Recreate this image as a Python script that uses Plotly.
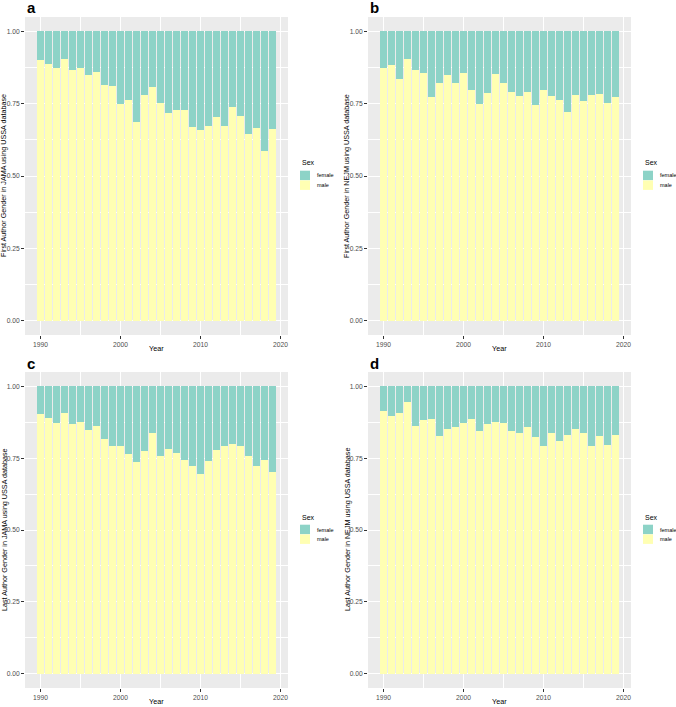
import plotly.graph_objects as go

years = list(range(1990, 2020))

# male share (fill position)
male_first_jama = [0.902, 0.889, 0.872, 0.906, 0.868, 0.874, 0.850, 0.861, 0.816, 0.812,
                   0.748, 0.762, 0.688, 0.781, 0.807, 0.754, 0.718, 0.730, 0.730, 0.671,
                   0.658, 0.673, 0.704, 0.672, 0.738, 0.709, 0.647, 0.665, 0.585, 0.663]
male_first_nejm = [0.875, 0.883, 0.835, 0.905, 0.867, 0.858, 0.774, 0.820, 0.849, 0.820,
                   0.856, 0.799, 0.748, 0.788, 0.852, 0.822, 0.792, 0.777, 0.790, 0.745,
                   0.799, 0.776, 0.762, 0.722, 0.779, 0.760, 0.779, 0.784, 0.751, 0.773]
male_last_jama = [0.903, 0.889, 0.872, 0.907, 0.869, 0.875, 0.849, 0.863, 0.816, 0.794,
                  0.794, 0.766, 0.736, 0.774, 0.837, 0.759, 0.783, 0.768, 0.743, 0.722,
                  0.694, 0.740, 0.779, 0.794, 0.800, 0.793, 0.756, 0.722, 0.743, 0.701]
male_last_nejm = [0.915, 0.897, 0.909, 0.947, 0.862, 0.884, 0.887, 0.828, 0.853, 0.860,
                  0.874, 0.885, 0.846, 0.870, 0.877, 0.874, 0.844, 0.838, 0.857, 0.825,
                  0.791, 0.839, 0.811, 0.832, 0.852, 0.839, 0.791, 0.828, 0.797, 0.830]

panel_tags = ["a", "b", "c", "d"]
y_titles = ["First Author Gender in JAMA using USSA database",
            "First Author Gender in NEJM using USSA database",
            "Last Author Gender in JAMA using USSA database",
            "Last Author Gender in NEJM using USSA database"]
x_title = "Year"
legend_title = "Sex"
sex_labels = ["female", "male"]
x_ticks = [1990, 2000, 2010, 2020]
x_minor = [1995, 2005, 2015]
y_ticks = [0.0, 0.25, 0.5, 0.75, 1.0]
y_tick_text = ["0.00", "0.25", "0.50", "0.75", "1.00"]
y_minor = [0.125, 0.375, 0.625, 0.875]

FEMALE = "#8DD3C7"
MALE = "#FFFFB3"
W, H = 676, 707
FONT = "Liberation Sans, Arial, sans-serif"

series = [male_first_jama, male_first_nejm, male_last_jama, male_last_nejm]

# panel pixel boxes: (left, right, top, bottom)
boxes = [(25, 288, 17, 335), (368, 631, 17, 335),
         (25, 288, 372, 688), (368, 631, 372, 688)]

fig = go.Figure()
layout = dict(width=W, height=H, margin=dict(l=0, r=0, t=0, b=0), autosize=False,
              paper_bgcolor="white", plot_bgcolor="#EBEBEB",
              barmode="stack", bargap=0.1, showlegend=False,
              font=dict(family=FONT, color="#4D4D4D"))
annotations = []
shapes = []

for i, male in enumerate(series):
    n = "" if i == 0 else str(i + 1)
    xa, ya = "x" + n, "y" + n
    female = [round(1 - m, 3) for m in male]
    fig.add_trace(go.Bar(x=years, y=male, name=sex_labels[1], marker=dict(color=MALE, line=dict(width=0)),
                         xaxis=xa, yaxis=ya, hoverinfo="x+y"))
    fig.add_trace(go.Bar(x=years, y=female, name=sex_labels[0], marker=dict(color=FEMALE, line=dict(width=0)),
                         xaxis=xa, yaxis=ya, hoverinfo="x+y"))
    l, r, t, b = boxes[i]
    layout["xaxis" + n] = dict(domain=[l / W, r / W], anchor=ya, range=[1988.055, 2020.945],
                               tickvals=x_ticks, ticks="outside", ticklen=3, tickcolor="#333333",
                               tickwidth=0.6, tickfont=dict(size=6.7, color="#4D4D4D"),
                               showgrid=True, gridcolor="white", gridwidth=0.9, zeroline=False,
                               showline=False, fixedrange=True,
                               minor=dict(tickvals=x_minor, showgrid=True, gridcolor="white",
                                          gridwidth=0.45, ticks=""))
    layout["yaxis" + n] = dict(domain=[1 - b / H, 1 - t / H], anchor=xa, range=[-0.05, 1.05],
                               tickvals=y_ticks, ticktext=y_tick_text, ticks="outside", ticklen=3,
                               tickcolor="#333333", tickwidth=0.6,
                               tickfont=dict(size=6.7, color="#4D4D4D"),
                               showgrid=True, gridcolor="white", gridwidth=0.9, zeroline=False,
                               showline=False, fixedrange=True,
                               minor=dict(tickvals=y_minor, showgrid=True, gridcolor="white",
                                          gridwidth=0.45, ticks=""))
    # panel tag
    annotations.append(dict(text="<b>%s</b>" % panel_tags[i], xref="paper", yref="paper",
                            x=l / W, y=1 - (t - 9) / H, xanchor="left", yanchor="middle",
                            showarrow=False, font=dict(size=15, color="black", family=FONT)))
    # axis titles
    annotations.append(dict(text=x_title, xref="paper", yref="paper", x=(l + r) / 2 / W,
                            y=1 - (b + 13.5) / H, xanchor="center", yanchor="middle",
                            showarrow=False, font=dict(size=7.2, color="black", family=FONT)))
    annotations.append(dict(text=y_titles[i], xref="paper", yref="paper", x=(l - 21) / W,
                            y=1 - (t + b) / 2 / H, xanchor="center", yanchor="middle", textangle=-90,
                            showarrow=False, font=dict(size=7.2, color="black", family=FONT)))
    # legend (drawn next to each panel)
    lx = r + 12
    ly = (t + b) / 2 - 13
    annotations.append(dict(text=legend_title, xref="paper", yref="paper", x=lx / W, y=1 - ly / H,
                            xanchor="left", yanchor="middle", showarrow=False,
                            font=dict(size=7, color="black", family=FONT)))
    for k, (lab, col) in enumerate(zip(sex_labels, [FEMALE, MALE])):
        ky0 = ly + 7.7 + k * 9.7
        shapes.append(dict(type="rect", xref="paper", yref="paper", x0=lx / W, x1=(lx + 10) / W,
                           y0=1 - ky0 / H, y1=1 - (ky0 + 9.5) / H, fillcolor=col,
                           line=dict(width=0), layer="above"))
        annotations.append(dict(text=lab, xref="paper", yref="paper", x=(lx + 15) / W,
                                y=1 - (ky0 + 4.8) / H, xanchor="left", yanchor="middle",
                                showarrow=False, font=dict(size=5.5, color="black", family=FONT)))

layout["annotations"] = annotations
layout["shapes"] = shapes
fig.update_layout(**layout)
fig.write_html("out.html", config={"responsive": False, "displayModeBar": False},
               post_script="document.body.style.margin='0px';document.body.style.padding='0px';"
                           "document.documentElement.style.overflow='hidden';")
